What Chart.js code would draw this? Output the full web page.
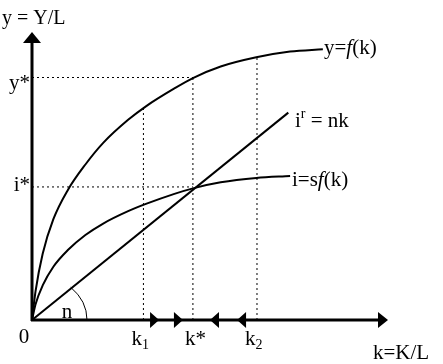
<!DOCTYPE html>
<html>
<head>
<meta charset="utf-8">
<script src="https://cdn.jsdelivr.net/npm/chart.js@4.4.0/dist/chart.umd.min.js"></script>
<style>
html,body{margin:0;padding:0;background:#fff;}
#wrap{width:443px;height:364px;position:relative;}
</style>
</head>
<body>
<div id="wrap"><canvas id="c" width="443" height="364"></canvas></div>
<script>
// ---- data (k = capital per worker, y = output per worker) ----
const prodK = [0, 0.1, 0.3, 0.6, 1.0, 1.5, 2.0, 2.7, 3.2, 4.0, 4.52, 5.3, 6.3, 7.25, 8.17];
const prodY = [0, 1.0, 2.3, 3.5, 4.5, 5.4, 6.15, 6.95, 7.42, 8.04, 8.40, 8.80, 9.12, 9.32, 9.40];
const savK  = [0, 0.1, 0.3, 0.6, 1.0, 1.5, 2.0, 2.7, 3.2, 4.0, 4.55, 5.3, 6.3, 7.25];
const savY  = [0, 0.55, 1.2, 1.85, 2.42, 2.95, 3.35, 3.78, 4.03, 4.38, 4.58, 4.78, 4.93, 5.0];
const reqK  = [0, 7.2];
const reqY  = [0, 7.2];
const markK = [3.13, 4.52, 6.32];          // k1, k*, k2
const markTop = [7.35, 8.42, 9.12];        // f(k) at those points
const yStar = 8.42;
const iStar = 4.62;
const arrowRight = [3.57, 4.24];           // arrow tips pointing right
const arrowLeft  = [5.00, 5.76];           // arrow tips pointing left
const xLabels = ['k', 'k', 'k'];
const xSubs = ['1', '*', '2'];

const pts = (xs, ys) => xs.map((x, i) => ({x: x, y: ys[i]}));
const dotted = {borderColor:'#000', borderWidth:1, borderDash:[2,3], pointRadius:0, fill:false};

const datasets = [
  {data: pts(prodK, prodY), borderColor:'#000', borderWidth:2, pointRadius:0, cubicInterpolationMode:'monotone'},
  {data: pts(savK, savY), borderColor:'#000', borderWidth:2, pointRadius:0, cubicInterpolationMode:'monotone'},
  {data: pts(reqK, reqY), borderColor:'#000', borderWidth:2, pointRadius:0},
  Object.assign({data: [{x:0,y:yStar},{x:markK[1],y:yStar}]}, dotted),
  Object.assign({data: [{x:0,y:iStar},{x:markK[1],y:iStar}]}, dotted)
];
markK.forEach((k, i) => datasets.push(Object.assign({data:[{x:k,y:0},{x:k,y:markTop[i]}]}, dotted)));

const SERIF = '"Liberation Serif", "Times New Roman", serif';

const deco = {
  id: 'deco',
  afterDraw(chart) {
    const ctx = chart.ctx, xs = chart.scales.x, ys = chart.scales.y;
    const ox = xs.getPixelForValue(0), oy = ys.getPixelForValue(0);
    const xEnd = xs.getPixelForValue(xs.max), yEnd = ys.getPixelForValue(ys.max);
    ctx.save();
    ctx.fillStyle = '#000'; ctx.strokeStyle = '#000';
    // axes
    ctx.lineWidth = 3;
    ctx.beginPath();
    ctx.moveTo(ox, oy + 1); ctx.lineTo(ox, yEnd + 8);
    ctx.moveTo(ox - 1, oy); ctx.lineTo(xEnd - 8, oy);
    ctx.stroke();
    // axis arrowheads
    ctx.beginPath();
    ctx.moveTo(ox, yEnd); ctx.lineTo(ox - 9, yEnd + 11); ctx.lineTo(ox + 9, yEnd + 11); ctx.closePath(); ctx.fill();
    ctx.beginPath();
    ctx.moveTo(xEnd, oy); ctx.lineTo(xEnd - 10, oy - 8); ctx.lineTo(xEnd - 10, oy + 8); ctx.closePath(); ctx.fill();
    // dynamics arrows on k axis
    arrowRight.forEach(v => {
      const p = xs.getPixelForValue(v);
      ctx.beginPath(); ctx.moveTo(p, oy); ctx.lineTo(p - 9, oy - 8); ctx.lineTo(p - 9, oy + 8); ctx.closePath(); ctx.fill();
    });
    arrowLeft.forEach(v => {
      const p = xs.getPixelForValue(v);
      ctx.beginPath(); ctx.moveTo(p, oy); ctx.lineTo(p + 9, oy - 8); ctx.lineTo(p + 9, oy + 8); ctx.closePath(); ctx.fill();
    });
    // angle arc n
    ctx.lineWidth = 1;
    ctx.beginPath();
    ctx.ellipse(ox, oy, 55, 46, 0, -0.79, 0);
    ctx.stroke();
    // text
    ctx.textBaseline = 'alphabetic';
    const f = (s) => s + 'px ' + SERIF;
    const fi = (s) => 'italic ' + s + 'px ' + SERIF;
    function runs(x, y, parts) {
      let cx = x;
      parts.forEach(p => {
        ctx.font = p[1];
        ctx.fillText(p[0], cx, y + (p[2] || 0));
        cx += ctx.measureText(p[0]).width;
      });
    }
    ctx.textAlign = 'left';
    runs(2, 24, [['y = Y/L', f(20)]]);
    runs(373, 359, [['k=K/L', f(21)]]);
    runs(324, 54, [['y=', f(21)], ['f', fi(21)], ['(k)', f(21)]]);
    runs(292, 186, [['i=s', f(21)], ['f', fi(21)], ['(k)', f(21)]]);
    runs(295, 127, [['i', f(21)], ['r', f(14), -9], [' = nk', f(21)]]);
    // y-axis labels
    ctx.textAlign = 'right';
    ctx.font = f(21);
    ctx.fillText('y*', ox - 2, ys.getPixelForValue(yStar) + 11);
    ctx.fillText('i*', ox - 2, ys.getPixelForValue(iStar) + 4);
    // k-axis labels
    ctx.textAlign = 'center';
    ctx.font = f(21);
    ctx.fillText('0', ox - 8, oy + 23);
    ctx.fillText('n', ox + 35, oy - 2);
    ctx.textAlign = 'left';
    markK.forEach((k, i) => {
      const p = xs.getPixelForValue(k);
      if (xSubs[i] === '*') {
        runs(p - 8, oy + 25, [[xLabels[i], f(21)], ['*', f(21)]]);
      } else {
        runs(p - 12, oy + 25, [[xLabels[i], f(21)], [xSubs[i], f(14), 4]]);
      }
    });
    ctx.restore();
  }
};

new Chart(document.getElementById('c'), {
  type: 'line',
  data: {datasets: datasets},
  options: {
    responsive: false,
    animation: false,
    events: [],
    layout: {padding: {left: 32, right: 55, top: 32, bottom: 44}},
    plugins: {legend: {display: false}, tooltip: {enabled: false}},
    elements: {line: {tension: 0}},
    scales: {
      x: {type: 'linear', min: 0, max: 10, display: false},
      y: {type: 'linear', min: 0, max: 10, display: false}
    }
  },
  plugins: [deco]
});
</script>
</body>
</html>
